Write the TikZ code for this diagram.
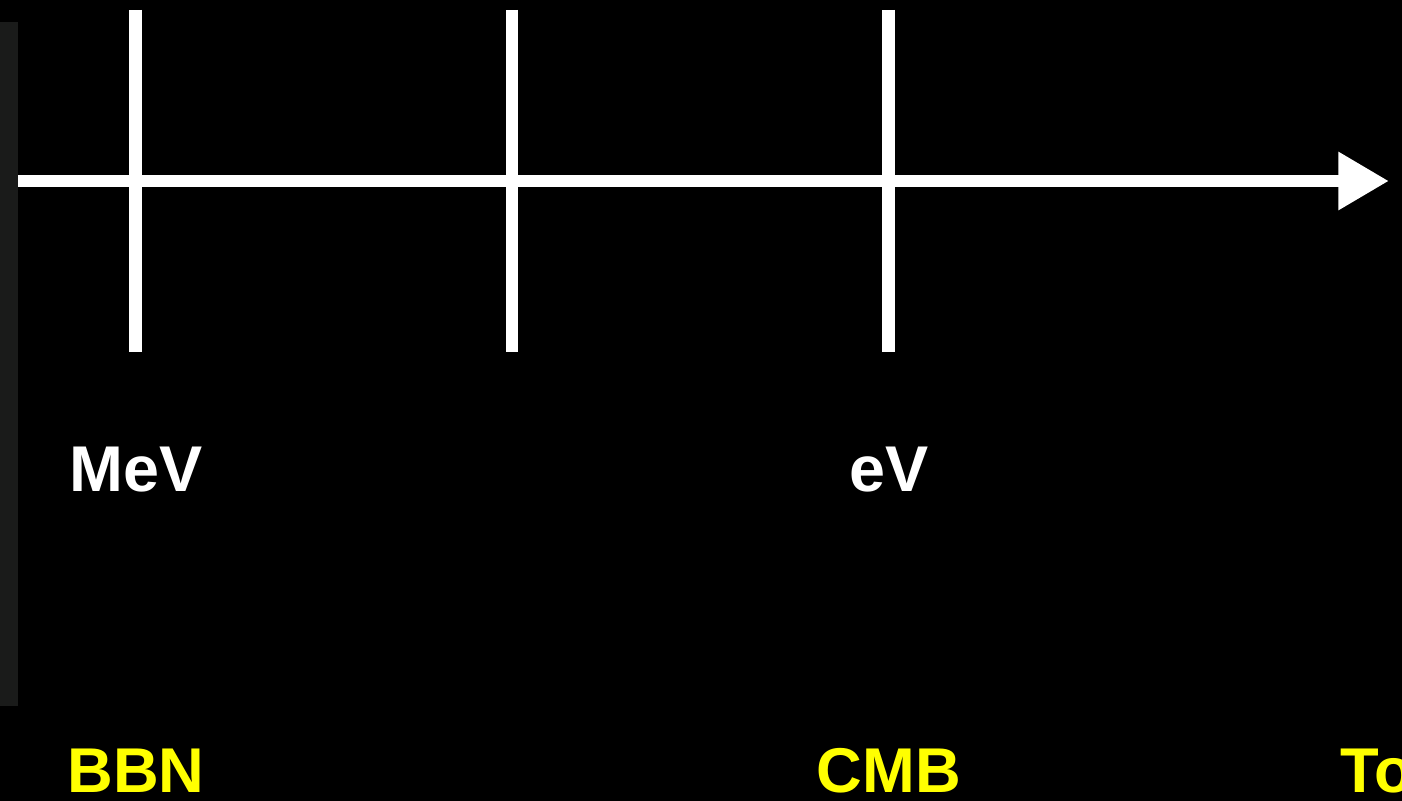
\documentclass[tikz,border=0pt]{standalone}
\usepackage{fontspec}
\setmainfont{Liberation Sans}
\usetikzlibrary{arrows.meta}
\definecolor{strip}{HTML}{1A1B1A}
\definecolor{labyellow}{HTML}{FFFF00}
\begin{document}
\begin{tikzpicture}[x=0.025cm,y=-0.025cm,
  axisline/.style={draw=white,line width=9.2pt},
  tickline/.style={draw=white,line width=9.2pt},
  scalelabel/.style={text=white,font=\fontsize{46}{50}\selectfont\bfseries,inner sep=0pt,anchor=base},
  eralabel/.style={text=labyellow,font=\fontsize{45}{50}\selectfont\bfseries,inner sep=0pt,anchor=base}]
\fill[black] (0,0) rectangle (1402,801);
\useasboundingbox (0,0) rectangle (1402,801);
\clip (0,0) rectangle (1402,801);
\fill[strip] (0,22) rectangle (18,706);
% axis
\coordinate (axL) at (18,181);
\coordinate (axR) at (1389,181);
\draw[axisline,-{Triangle[length=36pt,width=39pt]}] (axL) -- (axR);
% ticks
\coordinate (t1a) at (135.5,10); \coordinate (t1b) at (135.5,352);
\coordinate (t2a) at (512,10); \coordinate (t2b) at (512,352);
\coordinate (t3a) at (888.5,10); \coordinate (t3b) at (888.5,352);
\draw[tickline] (t1a) -- (t1b);
\draw[tickline] (t2a) -- (t2b);
\draw[tickline] (t3a) -- (t3b);
% labels
\node[scalelabel] (mev) at (136,491) {MeV};
\node[scalelabel] (ev) at (889,491) {eV};
\node[eralabel] (bbn) at (136,792) {BBN};
\node[eralabel] (cmb) at (889,792) {CMB};
\node[eralabel,anchor=base west] (today) at (1340,792) {To};
\end{tikzpicture}
\end{document}
